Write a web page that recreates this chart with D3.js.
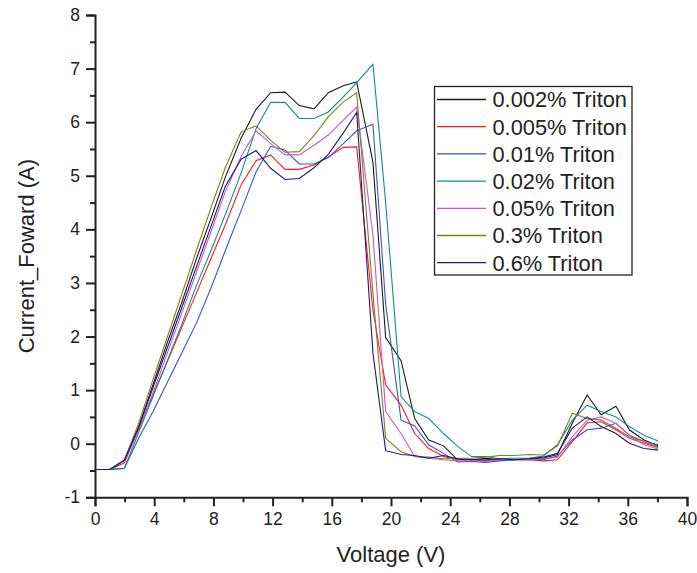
<!DOCTYPE html>
<html>
<head>
<meta charset="utf-8">
<script src="https://cdn.jsdelivr.net/npm/d3@7"></script>
<style>
  html, body { margin: 0; padding: 0; background: #fff; }
  svg { display: block; font-family: "Liberation Sans", Arial, sans-serif; }
</style>
</head>
<body>
<svg id="chart" width="697" height="573"></svg>
<script>
// ---- data ----
const voltage = [0, 1, 1.98, 2.95, 3.92, 4.9, 5.88, 6.85, 7.83, 8.8,
  9.87, 10.88, 11.87, 12.84, 13.8, 14.8, 15.76, 16.78, 17.68, 18.78,
  19.64, 20.68, 21.6, 22.55, 23.55, 24.5, 25.45, 26.4, 27.35, 28.3,
  29.3, 30.3, 31.25, 32.25, 33.25, 34.2, 35.2, 36.1, 37.1, 38.05];

const triton0002 = [-0.48,-0.48,-0.31,0.32,1.1,1.9,2.65,3.45,4.2,4.97,
  5.7,6.24,6.55,6.56,6.31,6.25,6.55,6.68,6.75,5.25,
  1.98,1.55,0.47,0.07,-0.04,-0.3,-0.3,-0.27,-0.3,-0.3,
  -0.28,-0.27,-0.2,0.38,0.91,0.54,0.7,0.26,0.07,-0.04];
const triton0005 = [-0.48,-0.48,-0.36,0.28,0.91,1.54,2.18,2.81,3.45,4.08,
  4.83,5.28,5.39,5.12,5.12,5.2,5.35,5.53,5.54,2.49,
  1.1,0.72,0.19,-0.09,-0.24,-0.3,-0.3,-0.32,-0.3,-0.3,
  -0.3,-0.32,-0.3,0.04,0.39,0.41,0.26,0.1,0.01,-0.07];
const triton001 = [-0.48,-0.48,-0.46,0.1,0.6,1.15,1.7,2.25,2.9,3.6,
  4.35,5.07,5.55,5.48,5.22,5.22,5.34,5.6,5.84,5.96,
  2.6,0.44,0.33,-0.02,-0.18,-0.34,-0.33,-0.35,-0.32,-0.3,
  -0.3,-0.3,-0.23,0.07,0.26,0.29,0.38,0.16,0.04,-0.02];
const triton002 = [-0.48,-0.48,-0.46,0.21,0.88,1.56,2.24,2.95,3.6,4.27,
  5.05,5.88,6.37,6.37,6.07,6.07,6.19,6.47,6.74,7.08,
  4.5,0.88,0.6,0.47,0.19,-0.05,-0.24,-0.24,-0.28,-0.27,
  -0.27,-0.23,-0.02,0.44,0.72,0.6,0.5,0.32,0.16,0.05];
const triton005 = [-0.48,-0.48,-0.31,0.25,0.95,1.7,2.45,3.2,3.95,4.7,
  5.36,5.84,5.6,5.39,5.39,5.57,5.76,6.04,6.28,3.9,
  0.6,0.19,-0.24,-0.27,-0.3,-0.32,-0.32,-0.33,-0.3,-0.3,
  -0.3,-0.28,-0.25,0.13,0.44,0.5,0.38,0.16,-0.02,-0.1];
const triton03 = [-0.48,-0.48,-0.31,0.38,1.2,2.0,2.8,3.6,4.4,5.15,
  5.82,5.93,5.66,5.44,5.45,5.75,6.1,6.38,6.55,2.8,
  0.1,-0.15,-0.24,-0.25,-0.28,-0.27,-0.27,-0.25,-0.22,-0.22,
  -0.2,-0.21,-0.04,0.57,0.47,0.44,0.29,0.13,0.04,-0.06];
const triton06 = [-0.48,-0.48,-0.31,0.3,1.05,1.8,2.55,3.3,4.05,4.8,
  5.31,5.47,5.14,4.93,4.95,5.15,5.4,5.8,6.18,1.69,
  -0.13,-0.2,-0.22,-0.27,-0.22,-0.28,-0.3,-0.3,-0.28,-0.3,
  -0.28,-0.25,-0.18,0.29,0.5,0.32,0.19,0.01,-0.09,-0.12];

const seriesNames = ["0.002% Triton","0.005% Triton","0.01% Triton","0.02% Triton","0.05% Triton","0.3% Triton","0.6% Triton"];
const seriesValues = [triton0002, triton0005, triton001, triton002, triton005, triton03, triton06];
const seriesColors = ["#1a1a1a","#ff1a1a","#3a55c0","#0f8f8f","#cc55cc","#808018","#1a1a80"];

const xTicks = d3.range(0, 41, 4);
const xMinor = d3.range(2, 41, 4);
const yTicks = d3.range(-1, 9, 1);
const yMinor = d3.range(-0.5, 8, 1);

const xTitle = "Voltage (V)";
const yTitle = "Current_Foward (A)";

// ---- layout ----
(function draw() {
const svg = d3.select("#chart");
const mLeft = 95, mRight = 687, mTop = 15, mBottom = 497.3;
const x = d3.scaleLinear().domain([0, 40]).range([mLeft, mRight]);
const y = d3.scaleLinear().domain([-1, 8]).range([mBottom, mTop]);
const axisColor = "#222";
const fmt = d => String(d);

// lines
const line = d3.line().x((d, i) => x(voltage[i])).y(d => y(d));
seriesValues.forEach((vals, k) => {
  svg.append("path")
    .datum(vals)
    .attr("d", line)
    .attr("fill", "none")
    .attr("stroke", seriesColors[k])
    .attr("stroke-width", 1.1)
    .attr("stroke-linejoin", "miter");
});

// axes
svg.append("g").attr("transform", `translate(0,${mBottom})`)
  .call(d3.axisBottom(x).tickValues(xTicks).tickSize(9).tickPadding(6).tickFormat(fmt));
svg.append("g").attr("transform", `translate(0,${mBottom})`)
  .call(d3.axisBottom(x).tickValues(xMinor).tickSize(5).tickFormat(""))
  .call(g => g.select(".domain").remove());
svg.append("g").attr("transform", `translate(${mLeft},0)`)
  .call(d3.axisLeft(y).tickValues(yTicks).tickSize(9).tickPadding(6).tickFormat(fmt));
svg.append("g").attr("transform", `translate(${mLeft},0)`)
  .call(d3.axisLeft(y).tickValues(yMinor).tickSize(5).tickFormat(""))
  .call(g => g.select(".domain").remove());

svg.selectAll(".domain").attr("stroke", axisColor).attr("stroke-width", 2);
svg.selectAll(".tick line").attr("stroke", axisColor).attr("stroke-width", 2);
svg.selectAll(".tick text").attr("fill", "#222").style("font-size", "17.5px")
  .style("font-family", "'Liberation Sans', Arial, sans-serif");

// titles
svg.append("text")
  .attr("x", (mLeft + mRight) / 2).attr("y", 562)
  .attr("text-anchor", "middle")
  .attr("fill", "#222")
  .style("font-size", "22px")
  .text(xTitle);
svg.append("text")
  .attr("transform", `translate(34,${(mTop + mBottom) / 2}) rotate(-90)`)
  .attr("text-anchor", "middle")
  .attr("fill", "#222")
  .style("font-size", "22px")
  .text(yTitle);

// legend
const lg = svg.append("g");
lg.append("rect")
  .attr("x", 434.5).attr("y", 86.5).attr("width", 197.5).attr("height", 188.5)
  .attr("fill", "#fff").attr("stroke", "#222").attr("stroke-width", 1.3);
seriesNames.forEach((name, k) => {
  const ly = 99.5 + k * 27.2;
  lg.append("line").attr("x1", 437).attr("x2", 486).attr("y1", ly).attr("y2", ly)
    .attr("stroke", seriesColors[k]).attr("stroke-width", 1.3);
  lg.append("text").attr("x", 492.5).attr("y", ly).attr("dy", "0.36em")
    .attr("fill", "#222").style("font-size", "21.8px").text(name);
});
})();
</script>
</body>
</html>
